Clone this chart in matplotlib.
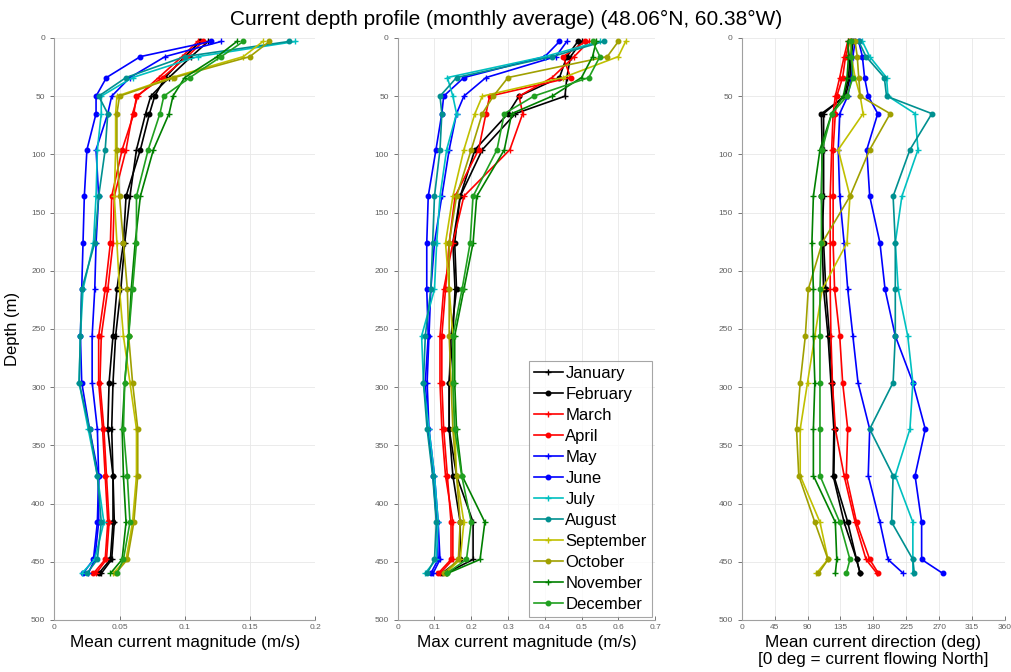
import numpy as np
import matplotlib
matplotlib.use('Agg')
import matplotlib.pyplot as plt

plt.rcParams['font.family'] = ['Liberation Sans', 'DejaVu Sans']

months = ['January', 'February', 'March', 'April', 'May', 'June', 'July',
          'August', 'September', 'October', 'November', 'December']
depth = [3, 16, 34, 50, 65, 96, 136, 176, 216, 256, 296, 336, 376, 416, 448, 460]

# mean current magnitude (m/s)
mean_mag = {
    'January':   [0.118, 0.105, 0.088, 0.074, 0.070, 0.063, 0.058, 0.054, 0.051, 0.047, 0.045, 0.044, 0.045, 0.046, 0.044, 0.036],
    'February':  [0.112, 0.100, 0.085, 0.077, 0.073, 0.066, 0.055, 0.053, 0.048, 0.045, 0.042, 0.041, 0.045, 0.045, 0.043, 0.034],
    'March':     [0.110, 0.098, 0.080, 0.064, 0.060, 0.055, 0.046, 0.045, 0.041, 0.036, 0.035, 0.038, 0.040, 0.042, 0.040, 0.032],
    'April':     [0.114, 0.102, 0.083, 0.063, 0.061, 0.052, 0.044, 0.043, 0.039, 0.034, 0.034, 0.037, 0.039, 0.041, 0.039, 0.030],
    'May':       [0.128, 0.085, 0.058, 0.044, 0.041, 0.032, 0.034, 0.032, 0.031, 0.029, 0.029, 0.033, 0.034, 0.034, 0.031, 0.026],
    'June':      [0.120, 0.066, 0.040, 0.032, 0.032, 0.025, 0.023, 0.022, 0.021, 0.020, 0.021, 0.027, 0.034, 0.033, 0.030, 0.022],
    'July':      [0.185, 0.110, 0.060, 0.036, 0.036, 0.033, 0.032, 0.030, 0.022, 0.020, 0.019, 0.026, 0.033, 0.038, 0.031, 0.021],
    'August':    [0.180, 0.100, 0.055, 0.034, 0.041, 0.039, 0.034, 0.031, 0.021, 0.020, 0.019, 0.027, 0.033, 0.036, 0.033, 0.025],
    'September': [0.160, 0.145, 0.090, 0.048, 0.047, 0.047, 0.046, 0.048, 0.050, 0.053, 0.058, 0.063, 0.063, 0.060, 0.055, 0.045],
    'October':   [0.165, 0.150, 0.092, 0.050, 0.048, 0.048, 0.050, 0.053, 0.056, 0.057, 0.060, 0.064, 0.064, 0.061, 0.056, 0.047],
    'November':  [0.140, 0.125, 0.100, 0.091, 0.088, 0.076, 0.066, 0.062, 0.059, 0.057, 0.054, 0.052, 0.053, 0.055, 0.052, 0.043],
    'December':  [0.145, 0.128, 0.104, 0.084, 0.081, 0.072, 0.063, 0.063, 0.060, 0.057, 0.054, 0.053, 0.056, 0.058, 0.053, 0.048],
}

# max current magnitude (m/s)
max_mag = {
    'January':   [0.50, 0.47, 0.46, 0.455, 0.32, 0.23, 0.17, 0.15, 0.156, 0.15, 0.14, 0.14, 0.16, 0.205, 0.205, 0.13],
    'February':  [0.49, 0.46, 0.44, 0.33, 0.30, 0.21, 0.17, 0.155, 0.16, 0.145, 0.14, 0.14, 0.15, 0.17, 0.17, 0.12],
    'March':     [0.52, 0.48, 0.42, 0.33, 0.34, 0.305, 0.18, 0.15, 0.125, 0.115, 0.115, 0.12, 0.13, 0.15, 0.15, 0.115],
    'April':     [0.51, 0.45, 0.47, 0.25, 0.24, 0.22, 0.156, 0.14, 0.13, 0.12, 0.12, 0.125, 0.135, 0.145, 0.145, 0.11],
    'May':       [0.46, 0.43, 0.24, 0.18, 0.16, 0.14, 0.12, 0.10, 0.09, 0.085, 0.08, 0.085, 0.10, 0.11, 0.115, 0.096],
    'June':      [0.44, 0.40, 0.18, 0.125, 0.12, 0.104, 0.083, 0.079, 0.079, 0.083, 0.075, 0.083, 0.096, 0.106, 0.11, 0.09],
    'July':      [0.55, 0.40, 0.135, 0.15, 0.16, 0.133, 0.115, 0.106, 0.10, 0.065, 0.07, 0.085, 0.10, 0.11, 0.105, 0.074],
    'August':    [0.56, 0.42, 0.16, 0.115, 0.12, 0.115, 0.10, 0.095, 0.09, 0.075, 0.07, 0.08, 0.095, 0.105, 0.10, 0.08],
    'September': [0.62, 0.60, 0.45, 0.23, 0.21, 0.18, 0.15, 0.13, 0.14, 0.15, 0.15, 0.155, 0.16, 0.18, 0.17, 0.13],
    'October':   [0.60, 0.57, 0.30, 0.26, 0.23, 0.20, 0.16, 0.14, 0.14, 0.14, 0.145, 0.15, 0.16, 0.17, 0.165, 0.125],
    'November':  [0.54, 0.53, 0.50, 0.42, 0.31, 0.29, 0.215, 0.205, 0.18, 0.155, 0.155, 0.16, 0.175, 0.237, 0.224, 0.135],
    'December':  [0.53, 0.55, 0.52, 0.37, 0.29, 0.27, 0.205, 0.197, 0.175, 0.15, 0.15, 0.155, 0.174, 0.20, 0.187, 0.133],
}

# mean current direction (deg, 0 = flowing north)
mean_dir = {
    'January':   [150, 148, 146, 140, 112, 112, 112, 110, 112, 118, 122, 126, 125, 140, 157, 162],
    'February':  [152, 150, 148, 142, 109, 110, 109, 112, 115, 120, 124, 127, 126, 145, 157, 162],
    'March':     [145, 140, 134, 128, 125, 123, 121, 121, 121, 122, 124, 128, 140, 155, 170, 185],
    'April':     [148, 142, 138, 130, 128, 125, 125, 125, 127, 134, 138, 145, 143, 157, 175, 187],
    'May':       [155, 152, 150, 145, 134, 132, 134, 140, 145, 152, 159, 175, 173, 189, 200, 221],
    'June':      [160, 165, 168, 173, 186, 171, 175, 189, 196, 210, 234, 251, 237, 246, 246, 275],
    'July':      [165, 175, 198, 200, 237, 241, 219, 210, 214, 227, 234, 230, 210, 234, 234, 234],
    'August':    [160, 170, 195, 198, 260, 230, 207, 210, 210, 210, 207, 175, 207, 205, 234, 236],
    'September': [148, 150, 155, 162, 166, 132, 148, 144, 110, 100, 90, 80, 80, 107, 118, 102],
    'October':   [155, 158, 160, 162, 203, 175, 148, 110, 91, 87, 80, 75, 78, 100, 118, 105],
    'November':  [145, 146, 144, 139, 123, 107, 98, 96, 98, 98, 100, 98, 98, 128, 130, 128],
    'December':  [150, 150, 152, 144, 123, 110, 109, 109, 107, 107, 107, 107, 107, 134, 148, 143],
}

colors = ['#000000', '#000000', '#ff0000', '#ff0000', '#0000ff', '#0000ff',
          '#00c0c0', '#009090', '#c0c000', '#a0a000', '#008000', '#20a020']
markers = ['+', '.'] * 6

fig = plt.figure(figsize=(10.12, 6.72), dpi=100)
ax1 = fig.add_axes([0.0537, 0.0774, 0.2576, 0.8661])
ax2 = fig.add_axes([0.3930, 0.0774, 0.2543, 0.8661])
ax3 = fig.add_axes([0.7329, 0.0774, 0.2602, 0.8661])

panels = [(ax1, mean_mag, np.arange(0, 0.21, 0.05), ['0', '0.05', '0.1', '0.15', '0.2'],
           'Mean current magnitude (m/s)'),
          (ax2, max_mag, np.arange(0, 0.71, 0.1), ['0', '0.1', '0.2', '0.3', '0.4', '0.5', '0.6', '0.7'],
           'Max current magnitude (m/s)'),
          (ax3, mean_dir, np.arange(0, 361, 45), [str(v) for v in range(0, 361, 45)],
           'Mean current direction (deg)\n[0 deg = current flowing North]')]

for ax, data, xt, xtl, xlab in panels:
    for i, m in enumerate(months):
        ms = 6.5 if markers[i] == '.' else 5
        ax.plot(data[m], depth, color=colors[i], marker=markers[i], markersize=ms,
                linewidth=1.2, label=m)
    ax.set_xlim(xt[0], xt[-1])
    ax.set_ylim(500, 0)
    ax.set_xticks(xt)
    ax.set_xticklabels(xtl)
    ax.set_yticks(range(0, 501, 50))
    ax.grid(True, color='#e8e8e8', linewidth=0.6)
    ax.set_axisbelow(True)
    for s in ['top', 'right']:
        ax.spines[s].set_visible(False)
    for s in ['left', 'bottom']:
        ax.spines[s].set_color('#a0a0a0')
    ax.tick_params(axis='both', labelsize=6, colors='#606060', length=3, width=0.6)
    ax.tick_params(axis='x', direction='in', pad=3)
    ax.set_xlabel(xlab, fontsize=12.3, labelpad=3, linespacing=1.1)

ax1.set_ylabel('Depth (m)', fontsize=12, labelpad=8)

leg = ax2.legend(loc='lower right', fontsize=12, frameon=True, fancybox=False,
                 handlelength=1.75, handletextpad=0.15, labelspacing=0.36,
                 borderpad=0.3, borderaxespad=0.2)
leg.get_frame().set_edgecolor('#909090')
leg.get_frame().set_linewidth(0.8)

fig.suptitle('Current depth profile (monthly average) (48.06\u00b0N, 60.38\u00b0W)',
             fontsize=15, y=0.985)

fig.savefig('out.png', dpi=100)
